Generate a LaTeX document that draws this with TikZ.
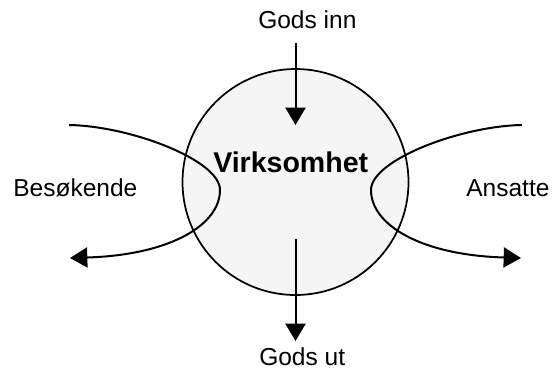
\documentclass[tikz,border=0pt]{standalone}
\usepackage{fontspec}
\setmainfont{Liberation Sans}
\usetikzlibrary{arrows.meta}
\definecolor{firmfill}{RGB}{245,245,245}
\tikzset{
  lbl/.style={anchor=base west, inner sep=0pt, font=\fontsize{18.4}{22}\selectfont},
  flow/.style={line width=1.5pt, -{Triangle[width=15pt,length=13pt]}},
  edge/.style={line width=1.3pt}
}
\begin{document}
\begin{tikzpicture}[x=0.75pt,y=-0.75pt]
\useasboundingbox (0,0) rectangle (556,369);
% circle
\node[edge, draw=black, fill=firmfill, circle, minimum size=169.5pt, inner sep=0pt] (firm) at (295.5,182) {};
\node[anchor=base west, inner sep=0pt, font=\fontsize{21.4}{25}\selectfont\bfseries] (name) at (213,172) {Virksomhet};
% labels
\node[lbl] (inn) at (258,28) {Gods inn};
\node[lbl] (ut) at (259,365) {Gods ut};
\node[lbl] (bes) at (13,196) {Besøkende};
\node[lbl] (ans) at (466,196) {Ansatte};
% coordinates
\coordinate (innS) at (295.5,43);
\coordinate (innE) at (295.5,125);
\coordinate (utS) at (295.5,239);
\coordinate (utE) at (295.5,341);
\coordinate (bS) at (69,125);
\coordinate (bM) at (220,190);
\coordinate (bE) at (70,258);
\coordinate (aS) at (522,125);
\coordinate (aM) at (371,190);
\coordinate (aE) at (521,258);
% arrows
\draw[flow] (innS) -- (innE);
\draw[flow] (utS) -- (utE);
\draw[flow] (bS) .. controls (130,126) and (220,160) .. (bM)
                 .. controls (220,225) and (170,255) .. (bE);
\draw[flow] (aS) .. controls (461,126) and (371,160) .. (aM)
                 .. controls (371,225) and (421,255) .. (aE);
\end{tikzpicture}
\end{document}
